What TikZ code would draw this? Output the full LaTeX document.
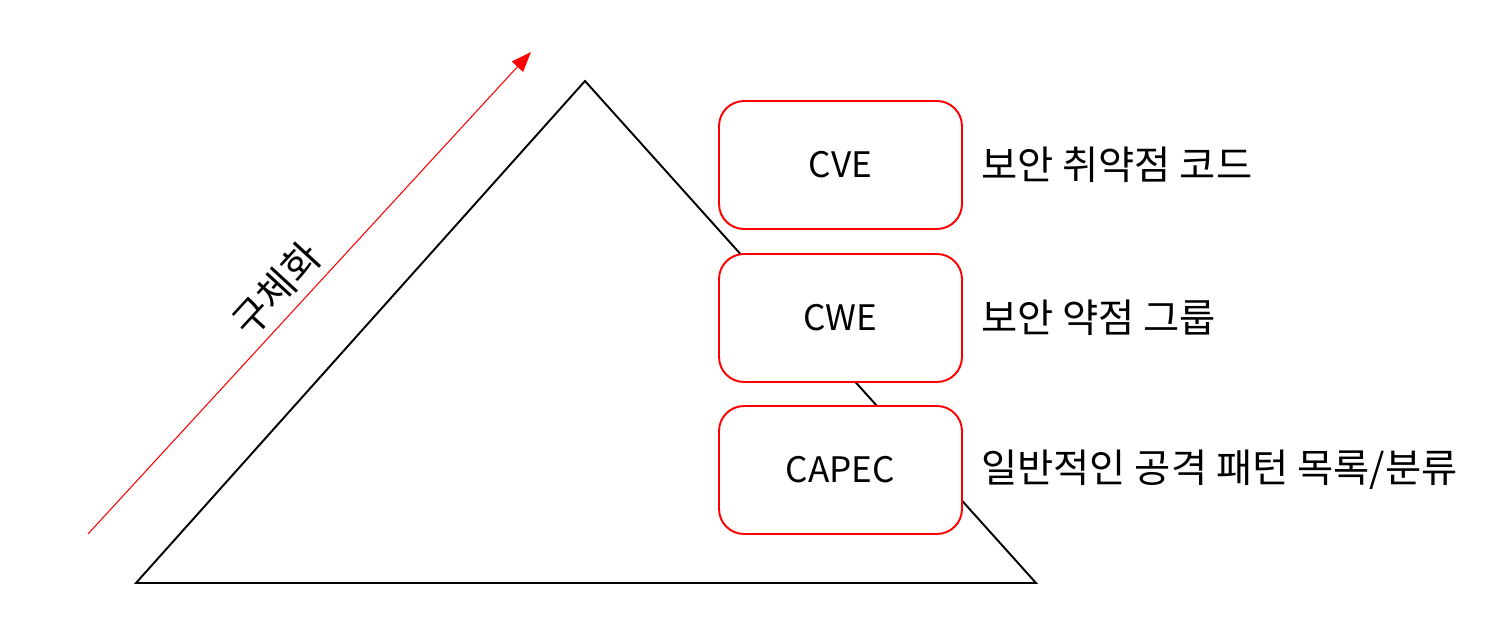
\documentclass[tikz,border=0pt]{standalone}
\usepackage{fontspec}
\setmainfont{Noto Sans CJK KR}
\usetikzlibrary{positioning}
\usetikzlibrary{arrows.meta}

\tikzset{
  levelbox/.style={rectangle,rounded corners=0.5cm,draw=red,line width=1.1pt,fill=white,
    minimum width=4.86cm,minimum height=2.56cm,font=\fontsize{20}{24}\selectfont},
  leveltext/.style={anchor=west,font=\fontsize{22.4}{26}\selectfont,inner sep=0pt}
}

\begin{document}
\begin{tikzpicture}[x=0.02cm,y=-0.02cm]
\useasboundingbox (0,0) rectangle (1489,626);
% pyramid
\coordinate (top) at (585,81);
\coordinate (left) at (136,583);
\coordinate (right) at (1036,583);
\draw[black,line width=1.1pt,line join=miter] (left) -- (top) -- (right) -- cycle;

% levels
\node[levelbox] (cve) at (840.5,165) {CVE};
\node[levelbox] (cwe) at (840.5,318) {CWE};
\node[levelbox] (capec) at (840.5,470) {CAPEC};
\node[leveltext,right=0.36cm of cve] (cvetext) {보안 취약점 코드};
\node[leveltext,right=0.36cm of cwe] (cwetext) {보안 약점 그룹};
\node[leveltext,right=0.36cm of capec] (capectext) {일반적인 공격 패턴 목록/분류};

% direction
\coordinate (arrowstart) at (88,534);
\coordinate (arrowend) at (531,52);
\draw[red,line width=0.6pt,-{Triangle[length=0.4cm,width=0.3cm]}] (arrowstart) -- (arrowend)
  node[pos=0.47,sloped,above=5pt,black,inner sep=0pt,font=\fontsize{22.4}{26}\selectfont] (label) {구체화};
\end{tikzpicture}
\end{document}
